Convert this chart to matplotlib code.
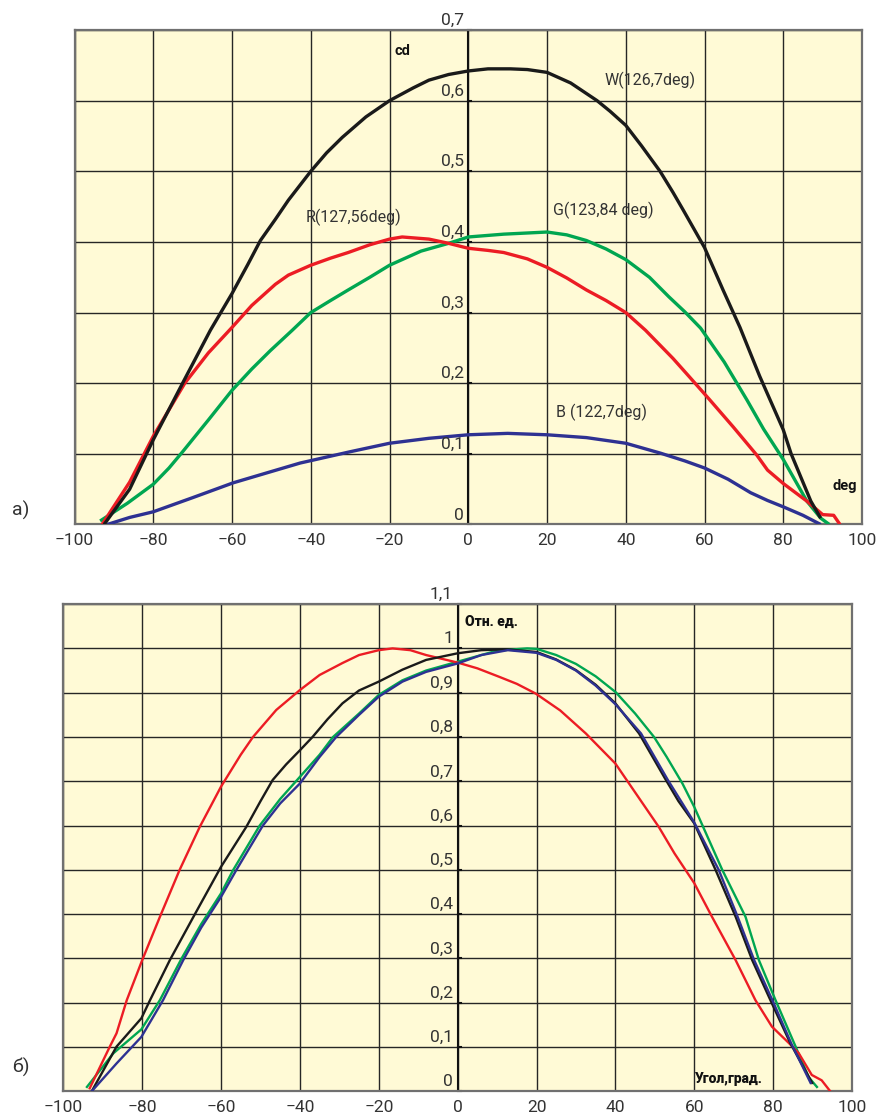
import matplotlib
matplotlib.use("Agg")
import matplotlib.pyplot as plt

# ---------------- data: panel a) (cd) ----------------
w_x = [-92.5, -86, -80, -72, -65.5, -60, -56, -52.8, -49, -45.7, -40, -36, -32, -26, -20, -14, -10, -5, 0, 5, 10.7, 15, 20, 26, 32.7, 36, 40, 44, 48.7, 52, 54.6, 60, 64.7, 69, 74, 80, 82, 87, 89.5]
w_y = [0, 0.05, 0.12, 0.206, 0.275, 0.327, 0.368, 0.402, 0.432, 0.459, 0.5, 0.526, 0.548, 0.577, 0.6, 0.618, 0.629, 0.637, 0.642, 0.645, 0.645, 0.644, 0.640, 0.625, 0.6, 0.585, 0.565, 0.536, 0.5, 0.47, 0.445, 0.392, 0.332, 0.279, 0.21, 0.134, 0.1, 0.033, 0.009]

r_x = [-93, -86, -80, -72, -66, -60, -55, -52, -49, -45.7, -40, -35, -30.5, -25, -20, -16.8, -10, -5, 0, 5, 9, 15, 20, 25, 30, 35, 40, 45, 52, 56, 61.4, 67.3, 73.3, 76, 80, 86, 90, 92.8, 94.4]
r_y = [0, 0.06, 0.125, 0.2, 0.243, 0.279, 0.31, 0.325, 0.34, 0.353, 0.367, 0.377, 0.385, 0.396, 0.404, 0.407, 0.404, 0.398, 0.391, 0.388, 0.385, 0.376, 0.364, 0.349, 0.332, 0.317, 0.3, 0.275, 0.235, 0.21, 0.176, 0.138, 0.098, 0.077, 0.058, 0.033, 0.014, 0.013, 0]

g_x = [-93.5, -86.6, -80, -76, -72.4, -66, -60, -55, -50.3, -44.7, -40, -35, -30.5, -25, -20, -12, -5, 0, 9, 20, 25, 30, 35, 40, 46, 51, 55, 59, 65, 70.8, 75, 80, 86, 89.5, 91.7]
g_y = [0.005, 0.03, 0.057, 0.08, 0.104, 0.148, 0.19, 0.22, 0.246, 0.275, 0.3, 0.317, 0.332, 0.35, 0.367, 0.387, 0.398, 0.407, 0.411, 0.414, 0.41, 0.402, 0.39, 0.375, 0.35, 0.322, 0.301, 0.278, 0.23, 0.176, 0.135, 0.092, 0.033, 0.009, 0]

b_x = [-91.7, -86, -80, -70, -59.7, -50, -42.7, -30, -20, -10, 0, 10, 20, 30, 40, 48.8, 55, 60, 66, 71.7, 76, 80, 85, 89.5]
b_y = [0, 0.01, 0.018, 0.038, 0.059, 0.075, 0.087, 0.103, 0.115, 0.122, 0.127, 0.129, 0.127, 0.123, 0.115, 0.101, 0.09, 0.08, 0.064, 0.045, 0.034, 0.025, 0.013, 0]

# ---------------- data: panel б) (relative units) ----------------
nr_x = [-93.3, -88.2, -86.5, -83.9, -80, -75.5, -70.5, -65.4, -60, -55, -51.9, -46, -40, -35, -29.2, -25, -20, -16.5, -12, -8, 0, 5, 10.5, 15, 19.8, 26, 32.5, 40, 45, 51, 55, 60, 64.5, 70.5, 75.5, 79.7, 84, 86.5, 89.8, 92.3, 94.5]
nr_y = [0.007, 0.101, 0.131, 0.206, 0.296, 0.394, 0.5, 0.597, 0.688, 0.76, 0.80, 0.861, 0.906, 0.94, 0.967, 0.985, 0.996, 1.0, 0.996, 0.985, 0.968, 0.955, 0.936, 0.92, 0.898, 0.86, 0.808, 0.74, 0.675, 0.597, 0.537, 0.47, 0.394, 0.296, 0.206, 0.146, 0.109, 0.086, 0.037, 0.025, 0]

nw_x = [-92.8, -86.5, -80.2, -78, -73, -67, -60, -53.6, -50, -46.9, -43.5, -40, -36.8, -33, -29.2, -25, -20, -14, -8, 0, 6, 12.2, 20, 25, 30, 35, 40, 46, 52.8, 56, 60, 65.4, 70.5, 74.7, 79.3, 84.4, 89.9]
nw_y = [0, 0.101, 0.165, 0.206, 0.296, 0.394, 0.507, 0.597, 0.655, 0.703, 0.738, 0.77, 0.80, 0.84, 0.876, 0.905, 0.925, 0.952, 0.974, 0.989, 0.996, 0.998, 0.992, 0.975, 0.951, 0.918, 0.876, 0.808, 0.703, 0.655, 0.605, 0.5, 0.394, 0.296, 0.206, 0.108, 0.019]

nb_x = [-92.8, -86.5, -80.2, -74.7, -69.6, -65, -60, -56.1, -49.4, -45, -40, -35, -30.8, -25, -20, -14, -8, 0, 6, 12.7, 20, 25, 30, 35, 40, 46.5, 53.3, 57, 60, 66.2, 71, 75.2, 79.8, 84.6, 89.5]
nb_y = [0, 0.063, 0.123, 0.206, 0.296, 0.37, 0.439, 0.5, 0.6, 0.65, 0.695, 0.755, 0.80, 0.85, 0.891, 0.925, 0.947, 0.966, 0.985, 0.996, 0.99, 0.974, 0.95, 0.916, 0.874, 0.808, 0.703, 0.65, 0.607, 0.5, 0.394, 0.296, 0.206, 0.108, 0.019]

ng_x = [-94, -87.3, -80.2, -75.5, -70, -65, -60, -56.9, -50.2, -45, -40, -35, -31.6, -25, -20, -14, -8, 0, 10, 17.6, 20, 25, 30, 35, 40.1, 45, 49.8, 53, 57, 60, 67.1, 73, 76.4, 80.6, 85.7, 89, 91.1]
ng_y = [0.01, 0.086, 0.14, 0.206, 0.30, 0.378, 0.447, 0.5, 0.6, 0.66, 0.71, 0.76, 0.8, 0.853, 0.895, 0.928, 0.95, 0.97, 0.995, 1.0, 0.999, 0.985, 0.965, 0.937, 0.901, 0.853, 0.80, 0.755, 0.695, 0.642, 0.5, 0.394, 0.296, 0.206, 0.101, 0.032, 0.01]

x_ticks = [-100, -80, -60, -40, -20, 0, 20, 40, 60, 80, 100]
x_tick_labels = ["\u2212100", "\u221280", "\u221260", "\u221240", "\u221220", "0", "20", "40", "60", "80", "100"]
a_yticks = [0, 0.1, 0.2, 0.3, 0.4, 0.5, 0.6, 0.7]
a_ylabels = ["0", "0,1", "0,2", "0,3", "0,4", "0,5", "0,6", "0,7"]
b_yticks = [0, 0.1, 0.2, 0.3, 0.4, 0.5, 0.6, 0.7, 0.8, 0.9, 1.0, 1.1]
b_ylabels = ["0", "0,1", "0,2", "0,3", "0,4", "0,5", "0,6", "0,7", "0,8", "0,9", "1", "1,1"]

BG = "#FFFAD6"
GRID = "#262626"
FRAME = "#707070"
TXT = "#333333"
C_BLACK = "#1a1a1a"
C_RED = "#EC1C24"
C_GREEN = "#00A651"
C_BLUE = "#2E3192"
FONT = "Roboto"

plt.rcParams["font.family"] = [FONT, "DejaVu Sans"]

fig = plt.figure(figsize=(8.79, 11.15), dpi=100)
ax1 = fig.add_axes([0.0848, 0.5296, 0.8959, 0.4435])
ax2 = fig.add_axes([0.0720, 0.0212, 0.8973, 0.4370])


def style(ax, yticks, ylabels, ymax):
    ax.set_facecolor(BG)
    ax.set_xlim(-100, 100)
    ax.set_ylim(0, ymax)
    ax.set_xticks(x_ticks)
    ax.set_xticklabels(x_tick_labels, fontsize=12.5, color=TXT)
    ax.set_yticks(yticks)
    ax.set_yticklabels([])
    ax.tick_params(axis="both", length=0, pad=6)
    ax.grid(True, color=GRID, lw=1.0)
    ax.set_axisbelow(True)
    for s in ax.spines.values():
        s.set_color(FRAME)
        s.set_linewidth(1.6)
    ax.axvline(0, color="#111111", lw=1.5, zorder=1.5)
    for v, lab in zip(yticks, ylabels):
        ax.text(-1.2, v + ymax * 0.004, lab, ha="right", va="bottom", fontsize=12.5,
                color=TXT, clip_on=False, zorder=4)
        ax.plot([0, 0.8], [v, v], color="#111111", lw=1.5, zorder=1.6, clip_on=False)


style(ax1, a_yticks, a_ylabels, 0.7)
style(ax2, b_yticks, b_ylabels, 1.1)

lw1 = 2.4
kw1 = dict(lw=lw1, zorder=3, solid_joinstyle="round", solid_capstyle="butt")
ax1.plot(b_x, b_y, color=C_BLUE, **kw1)
ax1.plot(g_x, g_y, color=C_GREEN, **kw1)
ax1.plot(r_x, r_y, color=C_RED, **kw1)
ax1.plot(w_x, w_y, color=C_BLACK, **kw1)

ax1.text(-18.8, 0.67, "cd", fontsize=10.5, fontweight="bold", color="#111111", ha="left", va="center")
ax1.text(34.5, 0.628, "W(126,7deg)", fontsize=11.5, color=TXT, ha="left", va="center")
ax1.text(-41.2, 0.435, "R(127,56deg)", fontsize=11.5, color=TXT, ha="left", va="center")
ax1.text(21.5, 0.444, "G(123,84 deg)", fontsize=11.5, color=TXT, ha="left", va="center")
ax1.text(22.2, 0.159, "B (122,7deg)", fontsize=11.5, color=TXT, ha="left", va="center")
ax1.text(92.5, 0.054, "deg", fontsize=10.5, fontweight="bold", color="#111111", ha="left", va="center")

lw2 = 1.7
kw2 = dict(lw=lw2, zorder=3, solid_joinstyle="round")
ax2.plot(ng_x, ng_y, color=C_GREEN, **kw2)
ax2.plot(nr_x, nr_y, color=C_RED, **kw2)
ax2.plot(nw_x, nw_y, color=C_BLACK, **kw2)
ax2.plot(nb_x, nb_y, color=C_BLUE, **kw2)

ax2.text(1.8, 1.06, "Отн. ед.", fontsize=10, fontweight="heavy", color="#111111", ha="left", va="center")
ax2.text(60.3, 0.027, "Угол,град.", fontsize=10, fontweight="heavy", color="#111111", ha="left", va="center")

fig.text(12 / 879, 1 - 510 / 1115, "a)", fontsize=14, color=TXT, ha="left", va="center")
fig.text(12 / 879, 1 - 1067 / 1115, "б)", fontsize=14, color=TXT, ha="left", va="center")

fig.savefig("out.png", dpi=100, facecolor="white")
